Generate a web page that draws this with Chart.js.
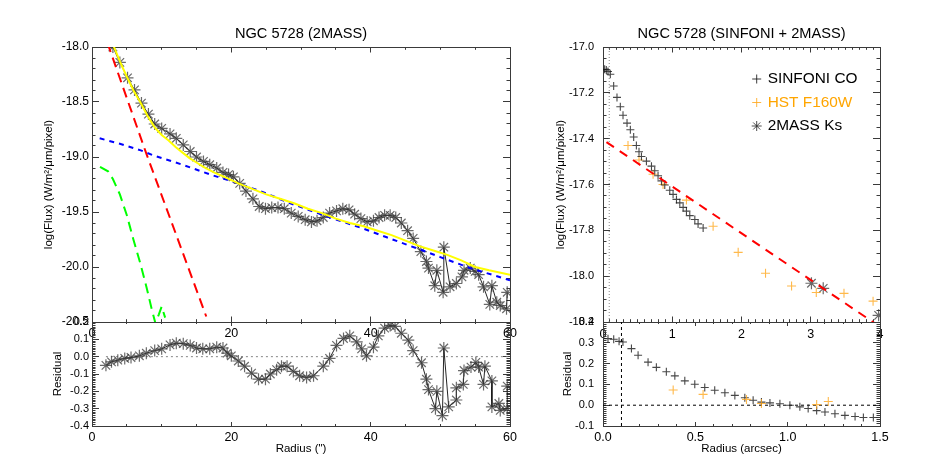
<!DOCTYPE html>
<html><head><meta charset="utf-8">
<script src="https://cdn.jsdelivr.net/npm/chart.js@4.4.1/dist/chart.umd.min.js"></script>
<style>
html,body{margin:0;padding:0;background:#fff;}
#wrap{position:relative;width:926px;height:463px;overflow:hidden;background:#fff;}
canvas{position:absolute;}
</style></head><body>
<div id="wrap">
<canvas id="cA" width="530" height="345" style="left:0px;top:0px;width:530px;height:345px"></canvas>
<canvas id="cB" width="530" height="163" style="left:0px;top:300px;width:530px;height:163px"></canvas>
<canvas id="cC" width="386" height="345" style="left:540px;top:0px;width:386px;height:345px"></canvas>
<canvas id="cD" width="386" height="163" style="left:540px;top:300px;width:386px;height:163px"></canvas>
</div>
<script>
// ---------------- data ----------------
const massR = [3.0,4.0,5.1,6.1,7.1,8.1,9.0,10.0,11.2,12.1,13.1,14.1,15.0,16.0,16.9,17.9,18.8,19.6,20.3,21.2,22.1,23.1,24.0,24.9,25.8,26.7,27.6,28.6,29.6,30.6,31.5,32.3,33.2,34.1,35.1,36.0,36.9,37.7,38.6,39.5,40.4,41.2,42.0,42.8,43.6,44.4,45.3,46.1,47.2,48.0,48.3,49.2,49.5,50.4,50.5,51.4,52.3,53.1,53.4,54.3,55.0,55.5,56.2,57.1,57.4,58.1,58.6,59.5,59.6];
const massFlux = [-18.00,-18.14,-18.28,-18.39,-18.51,-18.61,-18.70,-18.74,-18.79,-18.83,-18.89,-18.95,-19.00,-19.04,-19.07,-19.10,-19.14,-19.16,-19.18,-19.24,-19.31,-19.38,-19.45,-19.47,-19.46,-19.46,-19.47,-19.51,-19.54,-19.57,-19.59,-19.58,-19.55,-19.51,-19.49,-19.47,-19.48,-19.52,-19.56,-19.59,-19.58,-19.55,-19.53,-19.53,-19.55,-19.60,-19.67,-19.74,-19.86,-19.95,-20.01,-20.17,-20.03,-20.23,-19.82,-20.18,-20.15,-20.09,-20.03,-20.01,-20.04,-20.07,-20.18,-20.34,-20.17,-20.32,-20.35,-20.38,-20.23];

const modelR = [3.0,4,5,6,7,8,9,10,11,12,13,14,15,16,17.5,19,21,23,25,27,29,31,33,35,37,39,41,43,45,47,49,51,53,55,57,60];
const modelTotal = [-17.975,-18.13,-18.27,-18.40,-18.51,-18.63,-18.73,-18.80,-18.85,-18.91,-18.96,-19.01,-19.05,-19.09,-19.14,-19.18,-19.24,-19.29,-19.34,-19.38,-19.42,-19.47,-19.51,-19.56,-19.60,-19.63,-19.67,-19.71,-19.76,-19.81,-19.85,-19.89,-19.94,-20.00,-20.03,-20.07];

const diskR = [1.1,4,7,9,13,17,21,25,28,33.7,38.9,42.3,46.6,50,54.3,60];
const diskFlux = [-18.83,-18.88,-18.94,-18.99,-19.07,-19.16,-19.24,-19.33,-19.41,-19.54,-19.65,-19.73,-19.83,-19.91,-20.01,-20.12];

const bulgeR = [2.2,7.8,16.4];
const bulgeFlux = [-17.96,-18.97,-20.45];

const nucR = [1.15,2.3,3.0,4.0,5.0,5.9,6.9,7.85,8.56,9.1,9.6,10.0,10.5];
const nucFlux = [-19.09,-19.13,-19.20,-19.34,-19.53,-19.74,-19.96,-20.19,-20.38,-20.51,-20.43,-20.36,-20.46];

const residR = [2.0,2.8,3.7,4.7,5.6,6.8,7.8,9.0,10.0,11.2,12.1,13.1,14.1,15.0,15.9,16.9,17.9,18.8,19.4,20.0,21.0,21.9,22.9,23.9,24.9,25.6,26.5,27.2,28.0,28.9,29.8,30.8,31.8,33.2,34.1,35.1,36.1,37.0,38.0,38.7,39.4,40.4,41.1,42.0,42.8,43.5,44.4,45.4,46.1,47.3,48.0,48.3,49.3,49.5,50.3,50.5,51.2,52.3,52.3,53.3,53.4,54.4,55.1,55.5,56.2,56.4,57.4,57.4,58.4,58.6,59.6,59.6];
const residVal = [-0.05,-0.03,-0.02,-0.01,-0.005,0.005,0.02,0.035,0.045,0.068,0.078,0.075,0.065,0.05,0.045,0.045,0.055,0.05,0.02,0.005,-0.025,-0.055,-0.095,-0.13,-0.13,-0.10,-0.075,-0.055,-0.055,-0.085,-0.11,-0.12,-0.11,-0.055,-0.01,0.065,0.105,0.12,0.085,0.045,0.005,0.055,0.12,0.165,0.18,0.175,0.135,0.095,0.035,-0.035,-0.13,-0.19,-0.30,-0.20,-0.34,0.05,-0.29,-0.25,-0.18,-0.16,-0.08,-0.06,-0.033,-0.06,-0.16,-0.055,-0.14,-0.29,-0.27,-0.31,-0.30,-0.17];
const residZeroR = [2, 60];
const residZero = [0, 0];

const sinfR = [0.024,0.048,0.072,0.106,0.154,0.202,0.250,0.289,0.347,0.395,0.443,0.482,0.520,0.555,0.627,0.700,0.747,0.795,0.844,0.892,0.964,1.012,1.061,1.109,1.157,1.205,1.253,1.326,1.373,1.446];
const sinfFlux = [-17.097,-17.100,-17.107,-17.119,-17.170,-17.220,-17.261,-17.298,-17.332,-17.361,-17.393,-17.430,-17.457,-17.478,-17.498,-17.520,-17.540,-17.562,-17.584,-17.602,-17.625,-17.643,-17.665,-17.680,-17.700,-17.716,-17.736,-17.753,-17.772,-17.790];
const hstR = [0.361,0.520,0.723,0.867,1.205,1.590,1.952,2.347,2.723,3.080,3.480,3.900];
const hstFlux = [-17.430,-17.493,-17.555,-17.600,-17.668,-17.782,-17.896,-17.987,-18.043,-18.071,-18.075,-18.109];
const ksR = [3.01,3.18,3.98];
const ksFlux = [-18.031,-18.053,-18.171];
const fitR = [0.05, 4.0];
const fitFlux = [-17.415, -18.221];
const psfR = [0.09, 0.09];
const psfFlux = [-18.2, -17.0];

const sinfResR = [0.027,0.058,0.087,0.108,0.154,0.190,0.244,0.289,0.343,0.389,0.443,0.497,0.551,0.605,0.660,0.714,0.768,0.813,0.858,0.904,0.958,1.012,1.066,1.111,1.157,1.202,1.256,1.310,1.365,1.410,1.464];
const sinfResVal = [0.320,0.317,0.307,0.304,0.272,0.240,0.207,0.182,0.161,0.141,0.117,0.101,0.085,0.072,0.060,0.047,0.036,0.024,0.015,0.011,0.007,0.000,-0.008,-0.016,-0.026,-0.033,-0.041,-0.049,-0.054,-0.059,-0.059];
const hstResR = [0.380,0.542,0.777,0.858,1.157,1.220];
const hstResVal = [0.073,0.052,0.028,0.008,0.003,0.018];
const zeroR = [0, 1.5];
const zeroVal = [0, 0];
const psfResR = [0.1, 0.1];
const psfResVal = [-0.1, 0.4];

const titleLeft = 'NGC 5728 (2MASS)';
const titleRight = 'NGC 5728 (SINFONI + 2MASS)';
const fluxTitle = 'log(Flux) (W/m²/μm/pixel)';
const residTitle = 'Residual';
const radiusLeft = 'Radius (")';
const radiusRight = 'Radius (arcsec)';
const legendLabels = ['SINFONI CO', 'HST F160W', '2MASS Ks'];

// ---------------- helpers ----------------
const FONT = "'Liberation Sans', Arial, Helvetica, sans-serif";
const FRAME = '#3a3a3a';
Chart.defaults.font.family = FONT;
Chart.defaults.color = '#000';
const pts = (xs, ys) => xs.map((x, i) => ({x: x, y: ys[i]}));
const f1 = v => (Math.abs(v) < 1e-9 ? 0 : v).toFixed(1);
const f0 = v => String(Math.round(v));

const tickGrid = len => ({display: true, drawOnChartArea: false, drawTicks: true, tickLength: -len,
  color: FRAME, tickColor: FRAME, lineWidth: 1, tickWidth: 1});

// unlabeled axis that only draws inward tick marks (and optionally the frame line)
function tickAxis(axis, pos, min, max, step, len, border, weight) {
  const horiz = axis === 'x';
  return {
    type: 'linear', axis: axis, position: pos, min: min, max: max, weight: weight,
    ticks: {display: false, stepSize: step, autoSkip: false, maxTicksLimit: 1000},
    grid: tickGrid(len),
    border: {display: border, color: FRAME, width: 1},
    title: {display: false},
    afterFit: sc => {
      if (horiz) { sc.height = 0; sc.paddingLeft = 0; sc.paddingRight = 0; }
      else { sc.width = 0; sc.paddingTop = 0; sc.paddingBottom = 0; }
    }
  };
}

function mkScales(c) {
  const s = {
    x: {
      type: 'linear', axis: 'x', position: 'bottom', min: c.xmin, max: c.xmax, weight: 1,
      ticks: {stepSize: c.xstep, autoSkip: false, maxTicksLimit: 1000, maxRotation: 0, minRotation: 0,
        padding: c.xpad + c.xMaj, font: {size: c.xfont}, color: '#000', callback: c.xfmt},
      grid: tickGrid(c.xMaj), border: {display: true, color: FRAME, width: 1},
      title: c.xtitle ? {display: true, text: c.xtitle, color: '#000', font: {size: c.xtfont}, padding: {top: 0, bottom: c.xtpad}} : {display: false},
      afterFit: sc => { sc.height = c.xh; sc.paddingLeft = 0; sc.paddingRight = 0; }
    },
    xm: tickAxis('x', 'bottom', c.xmin, c.xmax, c.xMinor, c.xMin, false, 0),
    x2: tickAxis('x', 'top', c.xmin, c.xmax, c.xstep, c.xMaj, true, 1),
    x2m: tickAxis('x', 'top', c.xmin, c.xmax, c.xMinor, c.xMin, false, 0),
    y: {
      type: 'linear', axis: 'y', position: 'left', min: c.ymin, max: c.ymax, weight: 1,
      ticks: {stepSize: c.ystep, autoSkip: false, maxTicksLimit: 1000, padding: c.ypad + c.yMaj,
        font: {size: c.yfont}, color: '#000', callback: f1},
      grid: tickGrid(c.yMaj), border: {display: true, color: FRAME, width: 1},
      title: {display: true, text: c.ytitle, color: '#000', font: {size: c.ytfont}, padding: {top: c.ytpad, bottom: 0}},
      afterFit: sc => { sc.width = c.yw; sc.paddingTop = 0; sc.paddingBottom = 0; }
    },
    ym: tickAxis('y', 'left', c.ymin, c.ymax, c.yMinor, c.yMin, false, 0),
    y2: tickAxis('y', 'right', c.ymin, c.ymax, c.ystep, c.yMaj, true, 1),
    y2m: tickAxis('y', 'right', c.ymin, c.ymax, c.yMinor, c.yMin, false, 0)
  };
  if (c.title) {
    s.t = {
      type: 'linear', axis: 'x', position: 'top', min: c.xmin, max: c.xmax, weight: 2,
      ticks: {display: false}, grid: {display: false, drawTicks: false}, border: {display: false},
      title: {display: true, text: c.title, color: '#000', font: {size: c.tfont}, padding: {top: c.tpad, bottom: 0}},
      afterFit: sc => { sc.height = c.th; sc.paddingLeft = 0; sc.paddingRight = 0; }
    };
  }
  return s;
}

function makeLegend(o) {
  return {
    id: 'idlLegend',
    afterDatasetsDraw(chart) {
      const ctx = chart.ctx, a = chart.chartArea;
      ctx.save();
      ctx.font = o.font + 'px ' + FONT;
      ctx.textBaseline = 'middle';
      ctx.textAlign = 'left';
      o.items.forEach((it, i) => {
        const cy = a.top + o.rows[i], cx = a.left + o.symX, r = it.r;
        ctx.strokeStyle = it.sym;
        ctx.lineWidth = 1;
        ctx.beginPath();
        ctx.moveTo(cx - r, cy); ctx.lineTo(cx + r, cy);
        ctx.moveTo(cx, cy - r); ctx.lineTo(cx, cy + r);
        if (it.star) {
          const d = r * Math.SQRT1_2;
          ctx.moveTo(cx - d, cy - d); ctx.lineTo(cx + d, cy + d);
          ctx.moveTo(cx - d, cy + d); ctx.lineTo(cx + d, cy - d);
        }
        ctx.stroke();
        ctx.fillStyle = it.color;
        ctx.fillText(it.text, a.left + o.textX, cy);
      });
      ctx.restore();
    }
  };
}

function mkChart(id, datasets, scaleCfg, layoutPad, legend) {
  return new Chart(document.getElementById(id), {
    type: 'scatter',
    data: {datasets: datasets},
    options: {
      responsive: false, animation: false, devicePixelRatio: 1, events: [],
      layout: {padding: layoutPad},
      scales: mkScales(scaleCfg),
      plugins: {legend: {display: false}, tooltip: {enabled: false}, title: {display: false}}
    },
    plugins: legend ? [makeLegend(legend)] : []
  });
}

const lineDS = (xs, ys, color, width, dash, order) => ({
  data: pts(xs, ys), xAxisID: 'x', yAxisID: 'y', showLine: true, borderColor: color, borderWidth: width, borderDash: dash,
  pointRadius: 0, fill: false, clip: 0, order: order
});
const starDS = (xs, ys, withLine, order) => ({
  data: pts(xs, ys), xAxisID: 'x', yAxisID: 'y', showLine: withLine, borderColor: 'rgba(0,0,0,0.85)', borderWidth: 1,
  pointStyle: 'star', pointRadius: 6, pointBorderColor: 'rgba(55,55,55,0.75)', pointBorderWidth: 1.2,
  pointBackgroundColor: 'rgba(0,0,0,0)', clip: 0, order: order
});
const crossDS = (xs, ys, color, r, order) => ({
  data: pts(xs, ys), xAxisID: 'x', yAxisID: 'y', showLine: false, pointStyle: 'cross', pointRadius: r,
  pointBorderColor: color, pointBorderWidth: 1.1, borderColor: color, clip: 0, order: order
});

// ---------- Panel A: NGC 5728 (2MASS) ----------
mkChart('cA', [
  lineDS(modelR, modelTotal, '#ffff00', 2, [], 0),
  lineDS(diskR, diskFlux, '#0000ff', 2, [5, 5], 1),
  lineDS(bulgeR, bulgeFlux, '#ff0000', 2, [10, 6], 2),
  lineDS(nucR, nucFlux, '#00ff00', 2, [10, 6], 3),
  starDS(massR, massFlux, true, 4)
], {
  xmin: 0, xmax: 60, xstep: 20, xMinor: 5, xMaj: 5.5, xMin: 2.8, xfmt: f0, xfont: 12.5, xpad: 4, xh: 23,
  ymin: -20.5, ymax: -18, ystep: 0.5, yMinor: 0.1, yMaj: 7, yMin: 3.5, yfont: 12, ypad: 3, yw: 92,
  ytitle: fluxTitle, ytfont: 11.5, ytpad: 41.6,
  title: titleLeft, tfont: 14.6, tpad: 25.2, th: 47
}, {top: 0, left: 0, right: 20, bottom: 0});

// ---------- Panel B: residual (2MASS) ----------
mkChart('cB', [
  lineDS(residZeroR, residZero, 'rgba(120,120,120,0.9)', 1, [2, 3], 1),
  starDS(residR, residVal, true, 0)
], {
  xmin: 0, xmax: 60, xstep: 20, xMinor: 5, xMaj: 4, xMin: 2, xfmt: f0, xfont: 12.5, xpad: 4.5, xh: 37,
  xtitle: radiusLeft, xtfont: 11.5, xtpad: 6.8,
  ymin: -0.4, ymax: 0.2, ystep: 0.1, yMinor: 0.01, yMaj: 7, yMin: 3.5, yfont: 11, ypad: 3, yw: 92,
  ytitle: residTitle, ytfont: 11.5, ytpad: 50.6
}, {top: 22, left: 0, right: 20, bottom: 0});

// ---------- Panel C: NGC 5728 (SINFONI + 2MASS) ----------
mkChart('cC', [
  lineDS(psfR, psfFlux, 'rgba(120,120,120,0.9)', 1, [1, 2], 5),
  lineDS(fitR, fitFlux, '#ff0000', 2, [9, 7], 0),
  crossDS(sinfR, sinfFlux, 'rgba(25,25,25,0.8)', 4, 1),
  crossDS(hstR, hstFlux, 'rgba(255,168,30,0.8)', 4.5, 2),
  starDS(ksR, ksFlux, false, 3)
], {
  xmin: 0, xmax: 4, xstep: 1, xMinor: 0.1, xMaj: 5.5, xMin: 2.8, xfmt: f0, xfont: 12.5, xpad: 5, xh: 23,
  ymin: -18.2, ymax: -17.0, ystep: 0.2, yMinor: 0.05, yMaj: 7, yMin: 3.5, yfont: 11, ypad: 9, yw: 63,
  ytitle: fluxTitle, ytfont: 11.5, ytpad: 13.7,
  title: titleRight, tfont: 14.6, tpad: 25.2, th: 47
}, {top: 0, left: 0, right: 46, bottom: 0},
{font: 15.4, symX: 153.7, textX: 164.7, rows: [32, 55.5, 79], items: [
  {text: legendLabels[0], color: '#000', sym: 'rgba(25,25,25,0.85)', r: 4.5},
  {text: legendLabels[1], color: '#ffa500', sym: 'rgba(255,168,30,0.85)', r: 4.5},
  {text: legendLabels[2], color: '#000', sym: 'rgba(45,45,45,0.85)', r: 5, star: true}
]});

// ---------- Panel D: residual (SINFONI) ----------
mkChart('cD', [
  lineDS(zeroR, zeroVal, '#000', 1, [3, 3], 3),
  lineDS(psfResR, psfResVal, '#000', 1, [3, 3], 4),
  crossDS(sinfResR, sinfResVal, 'rgba(25,25,25,0.8)', 4, 1),
  crossDS(hstResR, hstResVal, 'rgba(255,168,30,0.8)', 4.5, 0)
], {
  xmin: 0, xmax: 1.5, xstep: 0.5, xMinor: 0.1, xMaj: 4, xMin: 2, xfmt: f1, xfont: 12.5, xpad: 4.5, xh: 37,
  xtitle: radiusRight, xtfont: 11.5, xtpad: 6.8,
  ymin: -0.1, ymax: 0.4, ystep: 0.1, yMinor: 0.01, yMaj: 7, yMin: 3.5, yfont: 11, ypad: 9, yw: 63,
  ytitle: residTitle, ytfont: 11.5, ytpad: 20.6
}, {top: 22, left: 0, right: 46, bottom: 0});
</script>
</body></html>
